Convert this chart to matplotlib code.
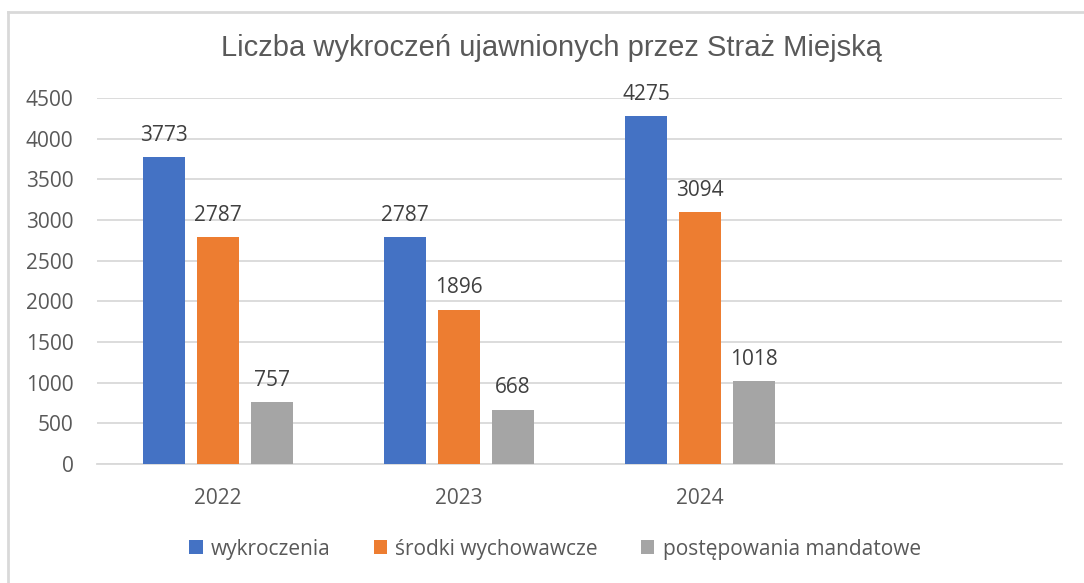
import matplotlib
matplotlib.use("Agg")
import matplotlib.pyplot as plt
import numpy as np
from matplotlib.lines import Line2D
from matplotlib.patches import Patch

categories = ["2022", "2023", "2024", ""]
series_names = ["wykroczenia", "środki wychowawcze", "postępowania mandatowe"]
wykroczenia = [3773, 2787, 4275, None]
srodki = [2787, 1896, 3094, None]
mandatowe = [757, 668, 1018, None]
yticks = [0, 500, 1000, 1500, 2000, 2500, 3000, 3500, 4000, 4500]
colors = ["#4472C4", "#ED7D31", "#A5A5A5"]

W, H = 1084, 583
FS = 15
fig = plt.figure(figsize=(W / 100, H / 100), dpi=100)
ax = fig.add_axes([97 / W, 1 - 464 / H, (1062 - 97) / W, (464 - 98) / H])

x = np.arange(len(categories))
bw = 0.174
step = 0.224
for i, (vals, c) in enumerate(zip([wykroczenia, srodki, mandatowe], colors)):
    xs = [xi + (i - 1) * step for xi, v in zip(x, vals) if v is not None]
    vs = [v for v in vals if v is not None]
    bars = ax.bar(xs, vs, width=bw, color=c, zorder=3)
    for b, v in zip(bars, vs):
        ax.text(b.get_x() + b.get_width() / 2, v + 140, str(v), ha="center", va="bottom",
                fontsize=FS, color="#404040", family="Open Sans")

ax.set_xlim(-0.5, len(categories) - 0.5)
ax.set_ylim(0, 4500)
ax.set_yticks(yticks)
ax.set_yticklabels([str(t) for t in yticks], fontsize=FS, color="#595959", family="Open Sans")
ax.set_xticks(x)
ax.set_xticklabels(categories, fontsize=FS, color="#595959", family="Open Sans")
ax.tick_params(axis="both", length=0)
ax.tick_params(axis="x", pad=17)
ax.tick_params(axis="y", pad=17)
ax.grid(axis="y", color="#D9D9D9", linewidth=1.3, zorder=0)
for s in ["top", "right", "left"]:
    ax.spines[s].set_visible(False)
ax.spines["bottom"].set_color("#D9D9D9")
ax.spines["bottom"].set_linewidth(1.3)

fig.text(551 / W, 1 - 48 / H, "Liczba wykroczeń ujawnionych przez Straż Miejską", ha="center", va="center",
         fontsize=21, color="#595959", family="Liberation Sans")

handles = [Patch(facecolor=c) for c in colors]
leg = fig.legend(handles, series_names, loc="center", bbox_to_anchor=(555 / W, 1 - 549 / H),
                 ncol=3, frameon=False, handlelength=0.65, handleheight=0.65,
                 handletextpad=0.4, columnspacing=2.05, prop={"family": "Open Sans", "size": FS})
for t in leg.get_texts():
    t.set_color("#595959")

# outer chart border (partially visible)
fig.add_artist(Line2D([8 / W, 1.0], [1 - 12 / H, 1 - 12 / H], color="#D9D9D9", linewidth=2, transform=fig.transFigure))
fig.add_artist(Line2D([8 / W, 8 / W], [0, 1 - 12 / H], color="#D9D9D9", linewidth=2, transform=fig.transFigure))

fig.savefig("out.png", dpi=100, facecolor="white")
